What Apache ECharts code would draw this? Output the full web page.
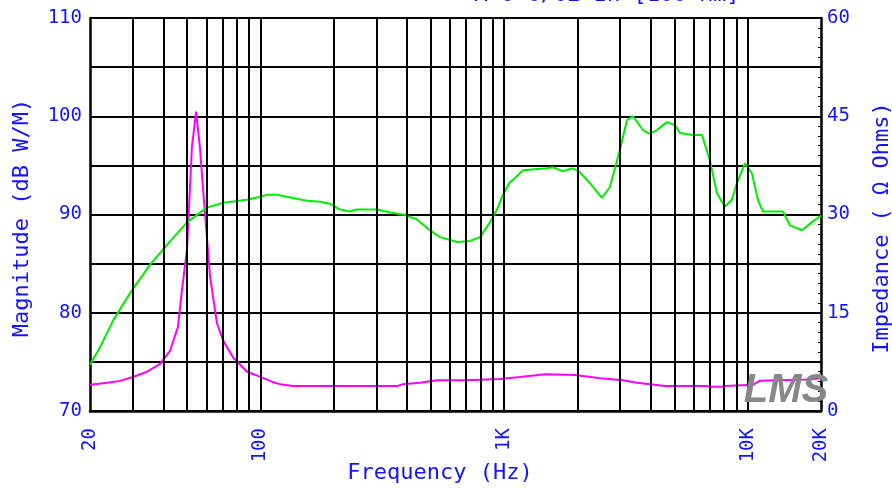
<!DOCTYPE html>
<html>
<head>
<meta charset="utf-8">
<script src="https://cdn.jsdelivr.net/npm/echarts@6/dist/echarts.min.js"></script>
<style>
html,body{margin:0;padding:0;background:#fff;}
#chart{width:892px;height:488px;}
</style>
</head>
<body>
<div id="chart"></div>
<script>
// ---- data ----
const splFreq = [20,22,25,29.2,35.3,41.4,50,60.4,70.3,88.2,100,106.5,117,128.6,155.4,175.7,193.1,212.3,233.3,249.2,301,340.5,385,439,497,546,641,725,797,876,936,990,1058,1088,1196,1501,1588,1745,1919,2050,2253,2523,2722,2991,3195,3382,3717,3971,4243,4664,5030,5272,5963,6492,7001,7477,8067,8617,9034,9743,10410,11020,11550,13950,14910,16700,18530,20000];
const splDb   = [74.7,76.5,79.3,82.0,84.9,86.9,89.2,90.7,91.2,91.5,91.8,92.0,92.0,91.8,91.4,91.3,91.1,90.5,90.3,90.5,90.5,90.2,90.0,89.5,88.4,87.7,87.2,87.3,87.7,89.2,90.5,92.0,93.3,93.5,94.5,94.7,94.8,94.4,94.7,94.3,93.2,91.7,92.8,96.6,99.6,100.0,98.6,98.2,98.6,99.4,99.1,98.3,98.1,98.1,95.5,92.2,90.8,91.5,93.2,95.2,94.2,91.5,90.3,90.3,88.9,88.4,89.3,89.9];

const impFreq = [20,23.5,26.6,30,34.3,38.8,42.6,45.9,47.7,50,52.4,54.5,56.5,58.7,62.2,66.4,70.3,77.2,88.2,100,112.7,120.4,136,198.7,363.8,385,452,531,705,962,1163,1473,1955,2476,3077,3512,3971,4576,6805,7001,7842,8067,10510,11200,17510,20000];
const impOhm  = [4.0,4.3,4.6,5.2,6.0,7.2,9.2,12.8,18.5,24.6,40.3,45.7,40.3,32.2,20.5,13.4,10.8,8.2,6.0,5.2,4.4,4.1,3.8,3.8,3.8,4.1,4.3,4.7,4.7,4.9,5.2,5.6,5.5,5.0,4.7,4.3,4.1,3.8,3.8,3.7,3.7,3.8,4.0,4.6,4.8,5.0];

const xLabelValues = [20,100,1000,10000,20000];
const xLabelTexts  = ['20','100','1K','10K','20K'];
const xGridValues  = [30,40,50,60,70,80,90,100,200,300,400,500,600,700,800,900,1000,2000,3000,4000,5000,6000,7000,8000,9000,10000];
const leftTicks  = [70,80,90,100,110];
const rightTicks = [0,15,30,45,60];

const BLUE = '#1414ff';
const MONO = '"DejaVu Sans Mono", monospace';

const chart = echarts.init(document.getElementById('chart'), null, {renderer:'canvas'});
const zip = (a,b) => a.map((v,i) => [v,b[i]]);

chart.setOption({
  animation:false,
  backgroundColor:'#fff',
  grid:{left:90,right:71,top:18,bottom:77,containLabel:false},
  xAxis:{
    type:'log', logBase:10, min:20, max:20000,
    axisLine:{show:true,onZero:false,lineStyle:{color:'#000',width:2.5}},
    axisTick:{show:false},
    splitLine:{show:false},
    minorTick:{show:false},
    axisLabel:{
      customValues:xLabelValues,
      rotate:90, margin:17,
      color:BLUE, fontFamily:MONO, fontSize:19,
      formatter:(v)=>{ const i = xLabelValues.findIndex(t=>Math.abs(t-v)/t<1e-6); return i>=0?xLabelTexts[i]:''; }
    }
  },
  yAxis:[{
    type:'value', min:70, max:110, interval:5, position:'left',
    axisLine:{show:true,onZero:false,lineStyle:{color:'#000',width:2.5}},
    axisTick:{show:false},
    splitLine:{show:true,lineStyle:{color:'#000',width:2}},
    axisLabel:{color:BLUE,fontFamily:MONO,fontSize:19,margin:8,
      formatter:(v)=> leftTicks.includes(v)?String(v):''}
  },{
    type:'value', min:0, max:60, interval:7.5, position:'right',
    axisLine:{show:true,onZero:false,lineStyle:{color:'#000',width:2.5}},
    axisTick:{show:true,inside:true,length:4,lineStyle:{color:'#000',width:1}},
    minorTick:{show:true,splitNumber:5,length:3,lineStyle:{color:'#000',width:1}},
    splitLine:{show:false},
    axisLabel:{color:BLUE,fontFamily:MONO,fontSize:19,margin:6,
      formatter:(v)=> rightTicks.includes(v)?String(v):''}
  }],
  series:[{
    name:'grid', type:'line', data:[], silent:true, z:1,
    markLine:{
      silent:true, symbol:['none','none'], label:{show:false}, animation:false,
      lineStyle:{color:'#000',width:2,type:'solid'},
      data: xGridValues.map(v=>({xAxis:v}))
    }
  },{
    name:'Impedance', type:'line', yAxisIndex:1, data:zip(impFreq,impOhm),
    showSymbol:false, z:3,
    lineStyle:{color:'#ff00ff',width:2}
  },{
    name:'Magnitude', type:'line', yAxisIndex:0, data:zip(splFreq,splDb),
    showSymbol:false, z:4,
    lineStyle:{color:'#00ee00',width:2}
  }],
  graphic:[
    {type:'text', x:22, y:218, rotation:Math.PI/2, z:10,
      style:{text:'Magnitude (dB W/M)', fill:BLUE, font:'22px '+MONO, align:'center', verticalAlign:'middle'}},
    {type:'text', x:882, y:228, rotation:Math.PI/2, z:10,
      style:{text:'Impedance ( Ω Ohms)', fill:BLUE, font:'22px '+MONO, align:'center', verticalAlign:'middle'}},
    {type:'text', x:440, y:473, z:10,
      style:{text:'Frequency (Hz)', fill:BLUE, font:'22px '+MONO, align:'center', verticalAlign:'middle'}},
    {type:'text', x:607, y:6, z:10,
      style:{text:'X-O 6/02 In [100 Hm]', fill:BLUE, font:'22px '+MONO, align:'center', verticalAlign:'bottom'}},
    {type:'text', x:786, y:391, z:20,
      style:{text:'LMS', fill:'#888', font:'italic bold 40px "Liberation Sans", sans-serif', align:'center', verticalAlign:'middle'}}
  ]
});
</script>
</body>
</html>
